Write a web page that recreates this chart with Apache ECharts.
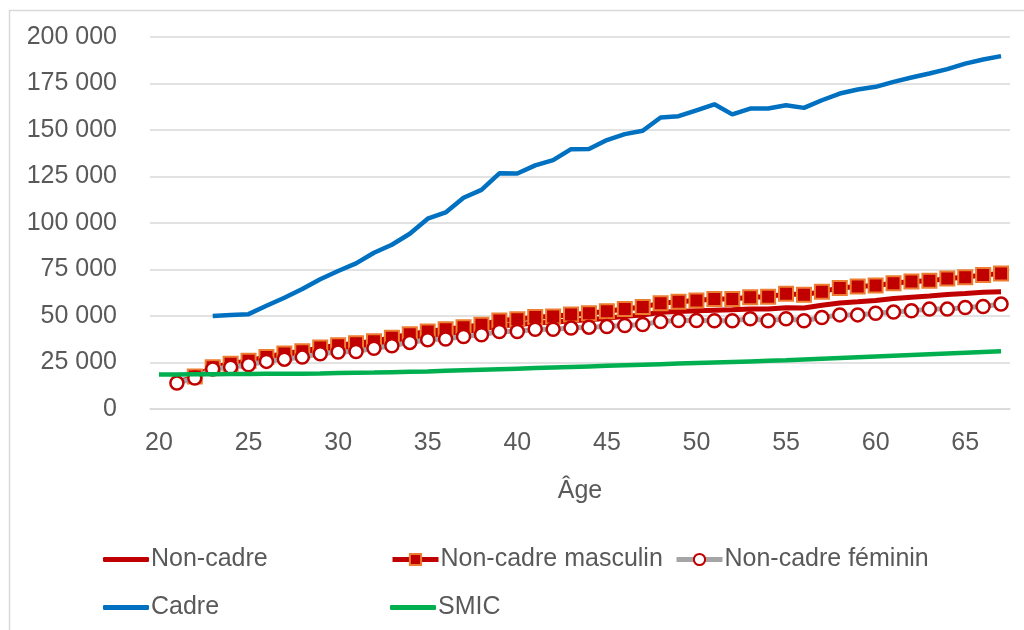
<!DOCTYPE html>
<html>
<head>
<meta charset="utf-8">
<script src="https://cdn.jsdelivr.net/npm/echarts@6/dist/echarts.min.js"></script>
<style>
html,body{margin:0;padding:0;background:#fff;}
#chart{width:1024px;height:630px;}
</style>
</head>
<body>
<div id="chart"></div>
<script>
const ages = [20,21,22,23,24,25,26,27,28,29,30,31,32,33,34,35,36,37,38,39,40,41,42,43,44,45,46,47,48,49,50,51,52,53,54,55,56,57,58,59,60,61,62,63,64,65,66,67];

const nonCadre = [null,14500,17000,22000,23500,25000,26800,28300,29500,31300,32500,33200,34500,36200,38000,39500,40400,41700,42800,44800,45300,46300,46600,47500,48000,48800,49800,50500,52000,52400,52800,53100,53300,53700,53800,54400,54300,55800,57000,57600,58300,59400,60100,60700,61500,62100,62800,63000];

const nonCadreMasculin = [null,null,17500,22500,24300,26000,28000,29800,31000,33000,34300,35300,36400,38300,40200,41700,42900,44000,45300,47600,48300,49400,49700,50800,51500,52600,53800,54800,56900,57600,58300,59200,59200,60100,60400,61900,61400,63100,65100,65800,66400,67600,68500,69000,70100,70800,72100,72800];

const nonCadreFeminin = [null,14000,16600,21500,22500,23800,25600,26800,27900,29700,30600,30900,32700,34000,35800,37200,37600,39000,39900,41700,41700,42900,42900,43500,44000,44300,44900,45400,47000,47600,47600,47400,47400,48500,47400,48500,47400,49200,50600,50600,51500,52100,52800,53700,53700,54600,55100,56400];

const cadre = [null,null,null,50000,50500,51000,55500,59800,64500,69800,74200,78300,84000,88300,94200,102300,105700,113600,117800,126700,126600,131000,133800,139700,139800,144600,147800,149600,156700,157400,160600,163800,158400,161500,161600,163300,161900,166000,169600,171800,173200,175900,178200,180400,182700,185700,187900,189700];

const smic = [18500,18600,18700,18700,18800,18800,18900,18900,19000,19100,19300,19500,19600,19800,20000,20200,20500,20800,21100,21400,21700,22000,22300,22600,22900,23200,23500,23800,24100,24400,24700,25000,25300,25600,25900,26200,26600,27000,27400,27800,28200,28600,29000,29400,29800,30200,30600,31000];

const seriesNames = ['Non-cadre','Non-cadre masculin','Non-cadre féminin','Cadre','SMIC'];
const xAxisTitle = 'Âge';

const FONT = '"Liberation Sans", Arial, sans-serif';
const TXT = '#595959';

function fmt(v){ return String(v).replace(/\B(?=(\d{3})+(?!\d))/g, ' '); }

const chart = echarts.init(document.getElementById('chart'), null, {renderer:'canvas'});

// plain line legend (no marker)
function lineLegend(name, left, top){
  return {
    data:[{name:name, icon:'roundRect'}], left:left, top:top, orient:'horizontal',
    itemWidth:46, itemHeight:5, itemGap:0,
    textStyle:{color:TXT, fontSize:25, fontFamily:FONT, padding:[0,0,0,-3]},
    selectedMode:false
  };
}
// line + marker legend
function markerLegend(name, left, top){
  return {
    data:[name], left:left, top:top, orient:'horizontal',
    itemWidth:46, itemHeight:14, itemGap:0,
    lineStyle:{width:5},
    textStyle:{color:TXT, fontSize:25, fontFamily:FONT, padding:[0,0,0,-3]},
    selectedMode:false
  };
}

chart.setOption({
  animation:false,
  backgroundColor:'#ffffff',
  textStyle:{fontFamily:FONT},
  graphic:[{
    type:'rect', left:7, top:8, silent:true,
    shape:{x:0,y:0,width:1100,height:700},
    style:{fill:'none', stroke:'#d9d9d9', lineWidth:1.5}
  }],
  grid:{left:150, right:14, top:37, bottom:221, containLabel:false},
  legend:[
    lineLegend(seriesNames[0], 98, 542),
    markerLegend(seriesNames[1], 385, 542),
    markerLegend(seriesNames[2], 669, 542),
    lineLegend(seriesNames[3], 98, 590),
    lineLegend(seriesNames[4], 385, 590)
  ],
  xAxis:{
    type:'category', data:ages, boundaryGap:true,
    name:xAxisTitle, nameLocation:'middle', nameGap:70,
    nameTextStyle:{color:TXT, fontSize:25, fontFamily:FONT},
    axisLine:{show:true, lineStyle:{color:'#d9d9d9', width:1.5}},
    axisTick:{show:false},
    axisLabel:{interval:4, color:TXT, fontSize:25, fontFamily:FONT, margin:22},
    splitLine:{show:false}
  },
  yAxis:{
    type:'value', min:0, max:200000, interval:25000,
    axisLine:{show:false}, axisTick:{show:false},
    axisLabel:{color:TXT, fontSize:25, fontFamily:FONT, margin:33, formatter:fmt},
    splitLine:{show:true, lineStyle:{color:'#d9d9d9', width:1.5}}
  },
  series:[
    {name:seriesNames[0], type:'line', data:nonCadre, symbol:'none', showSymbol:false,
     lineStyle:{color:'#c00000', width:5}, itemStyle:{color:'#c00000'}, z:2},
    {name:seriesNames[1], type:'line', data:nonCadreMasculin, symbol:'rect', symbolSize:14, showSymbol:true, showAllSymbol:true,
     lineStyle:{color:'#c00000', width:5}, itemStyle:{color:'#c00000', borderColor:'#ed7d31', borderWidth:2}, z:3},
    {name:seriesNames[2], type:'line', data:nonCadreFeminin, symbol:'circle', symbolSize:13, showSymbol:true, showAllSymbol:true,
     lineStyle:{color:'#a5a5a5', width:5}, itemStyle:{color:'#ffffff', borderColor:'#c00000', borderWidth:2.5}, z:4},
    {name:seriesNames[3], type:'line', data:cadre, symbol:'none', showSymbol:false,
     lineStyle:{color:'#0070c0', width:4.5}, itemStyle:{color:'#0070c0'}, z:5},
    {name:seriesNames[4], type:'line', data:smic, symbol:'none', showSymbol:false,
     lineStyle:{color:'#00b050', width:4.5}, itemStyle:{color:'#00b050'}, z:5}
  ]
});
</script>
</body>
</html>
